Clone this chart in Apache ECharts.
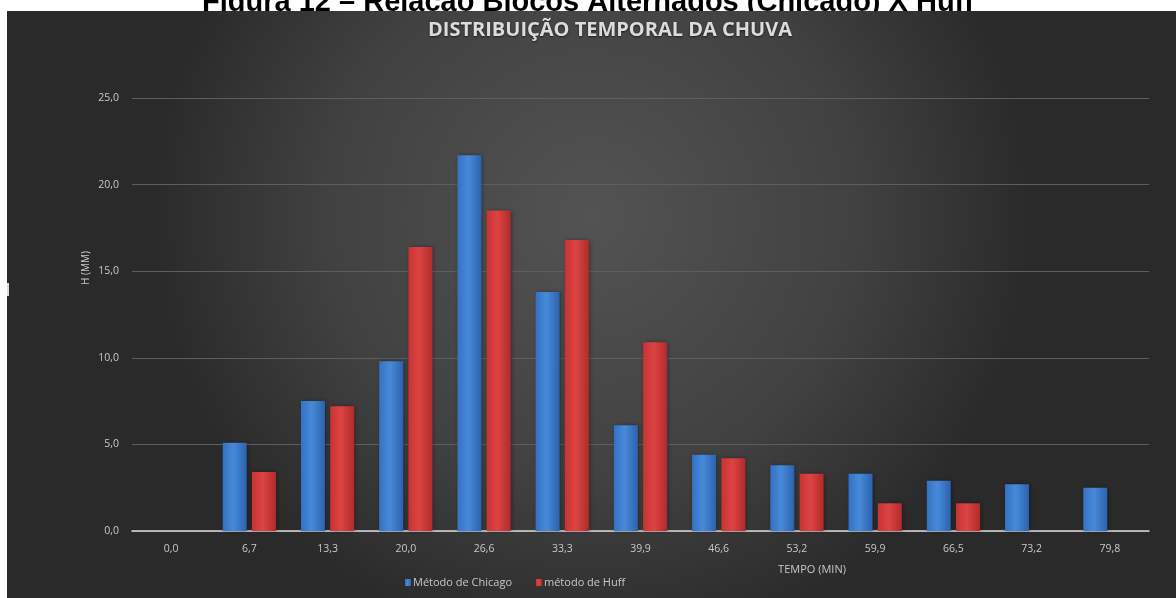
<!DOCTYPE html>
<html>
<head>
<meta charset="utf-8">
<style>
  html, body { margin: 0; padding: 0; background: #ffffff; }
  #chart { width: 1176px; height: 598px; }
</style>
<script src="https://cdn.jsdelivr.net/npm/echarts@6/dist/echarts.min.js"></script>
</head>
<body>
<div id="chart"></div>
<script>
// ---- data ----
const categories = ['0,0', '6,7', '13,3', '20,0', '26,6', '33,3', '39,9', '46,6', '53,2', '59,9', '66,5', '73,2', '79,8'];
const chicago = [null, 5.1, 7.5, 9.8, 21.7, 13.8, 6.1, 4.4, 3.8, 3.3, 2.9, 2.7, 2.5];
const huff    = [null, 3.4, 7.2, 16.4, 18.5, 16.8, 10.9, 4.2, 3.3, 1.6, 1.6, null, null];
const seriesNames = ['Método de Chicago', 'método de Huff'];
const captionText = 'Figura 12 – Relação Blocos Alternados (Chicago) X Huff';
const titleText = 'DISTRIBUIÇÃO TEMPORAL DA CHUVA';
const yAxisTitle = 'H (MM)';
const xAxisTitle = 'TEMPO (MIN)';

const labelColor = '#c8c8c8';
const font = '"Open Sans", "DejaVu Sans", sans-serif';

const chart = echarts.init(document.getElementById('chart'));

const blueGrad = new echarts.graphic.LinearGradient(0, 0, 1, 0, [
  { offset: 0, color: '#3471c4' },
  { offset: 0.45, color: '#478ad9' },
  { offset: 1, color: '#2c62ad' }
]);
const redGrad = new echarts.graphic.LinearGradient(0, 0, 1, 0, [
  { offset: 0, color: '#c83333' },
  { offset: 0.45, color: '#dc4442' },
  { offset: 1, color: '#b02b2b' }
]);

chart.setOption({
  backgroundColor: '#ffffff',
  animation: false,
  graphic: [
    {
      type: 'text', z: -30, left: 'center', top: -12,
      style: { text: captionText, font: 'bold 29px "Liberation Sans", Arial, sans-serif', fill: '#000000' }
    },
    {
      type: 'rect', z: -20,
      shape: { x: 7, y: 11, width: 1169, height: 587 },
      style: {
        fill: new echarts.graphic.RadialGradient(0.5, 0.35, 0.75, [
          { offset: 0, color: '#535353' },
          { offset: 0.6, color: '#414141' },
          { offset: 1, color: '#2a2a2a' }
        ])
      }
    },
    {
      type: 'rect', z: -10,
      shape: { x: 7, y: 283, width: 2, height: 13 },
      style: { fill: '#dddddd' }
    },
    {
      type: 'text', z: 5, x: 610, y: 30,
      style: {
        text: titleText, font: 'bold 20px "Open Sans", sans-serif', fill: '#dcdcdc',
        align: 'center', verticalAlign: 'middle',
        textShadowColor: 'rgba(0,0,0,0.6)', textShadowBlur: 2, textShadowOffsetY: 1
      }
    },
    {
      type: 'text', z: 5, x: 86, y: 268, rotation: Math.PI / 2,
      style: { text: yAxisTitle, font: '10px ' + font, fill: labelColor, align: 'center', verticalAlign: 'middle' }
    },
    {
      type: 'text', z: 5, x: 812, y: 570,
      style: { text: xAxisTitle, font: '11px ' + font, fill: labelColor, align: 'center', verticalAlign: 'middle' }
    }
  ],
  grid: { left: 132, right: 27, top: 98, bottom: 67 },
  legend: {
    data: seriesNames,
    left: 400, top: 572,
    icon: 'rect', itemWidth: 6, itemHeight: 7, itemGap: 24,
    textStyle: { color: labelColor, fontSize: 11, fontFamily: font, padding: [0, 0, 0, -3] }
  },
  xAxis: {
    type: 'category',
    data: categories,
    axisLine: { lineStyle: { color: '#d9d9d9', width: 1.5 } },
    axisTick: { show: false },
    axisLabel: { color: labelColor, fontSize: 10.5, fontFamily: font, margin: 13 }
  },
  yAxis: {
    type: 'value',
    min: 0, max: 25, interval: 5,
    axisLine: { show: false },
    axisTick: { show: false },
    splitLine: { lineStyle: { color: '#5e5e5e', width: 1 } },
    axisLabel: {
      color: labelColor, fontSize: 10.5, fontFamily: font, margin: 13,
      formatter: v => v.toFixed(1).replace('.', ',')
    }
  },
  series: [
    {
      name: seriesNames[0], type: 'bar', data: chicago,
      barWidth: 24, barGap: '22%',
      itemStyle: { color: blueGrad, shadowColor: 'rgba(0,0,0,0.35)', shadowBlur: 4, shadowOffsetX: 1 }
    },
    {
      name: seriesNames[1], type: 'bar', data: huff,
      barWidth: 24,
      itemStyle: { color: redGrad, shadowColor: 'rgba(0,0,0,0.35)', shadowBlur: 4, shadowOffsetX: 1 }
    }
  ]
});
</script>
</body>
</html>
